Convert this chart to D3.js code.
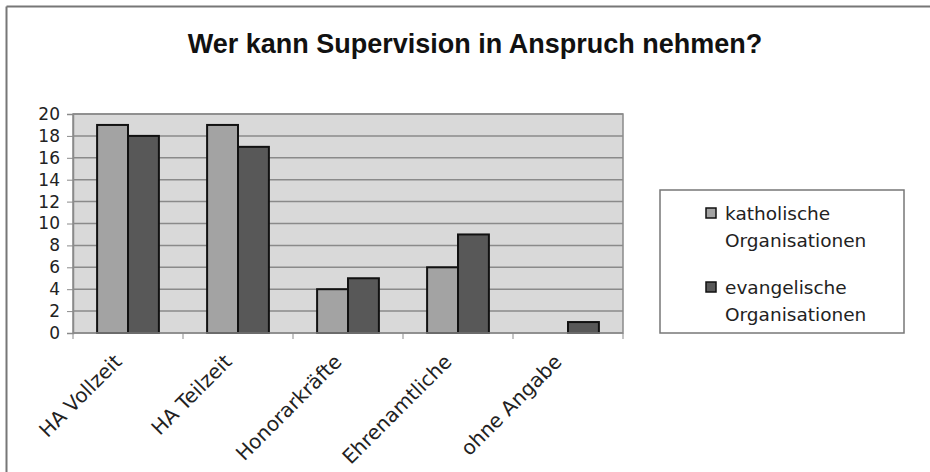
<!DOCTYPE html>
<html>
<head>
<meta charset="utf-8">
<script src="https://cdn.jsdelivr.net/npm/d3@7"></script>
<style>
  html, body { margin: 0; padding: 0; background: #fff; }
  svg { display: block; font-family: "DejaVu Sans", Verdana, sans-serif; }
</style>
</head>
<body>
<svg id="chart" width="930" height="472"></svg>
<script>
// Survey answers: who may use supervision, by organisation type
const categories = ["HA Vollzeit", "HA Teilzeit", "Honorarkräfte", "Ehrenamtliche", "ohne Angabe"];
const katholisch = [19, 19, 4, 6, 0];
const evangelisch = [18, 17, 5, 9, 1];
const seriesNames = ["katholische Organisationen", "evangelische Organisationen"];
const yTicks = [0, 2, 4, 6, 8, 10, 12, 14, 16, 18, 20];

const svg = d3.select("#chart");
const W = 930, H = 472;

// outer frame (top and left edges)
svg.append("line").attr("x1", 6.5).attr("x2", W).attr("y1", 6.5).attr("y2", 6.5)
  .attr("stroke", "#777").attr("stroke-width", 2);
svg.append("line").attr("x1", 6.5).attr("x2", 6.5).attr("y1", 6.5).attr("y2", H)
  .attr("stroke", "#777").attr("stroke-width", 2);

// title
svg.append("text").attr("x", 475).attr("y", 53).attr("text-anchor", "middle")
  .attr("font-family", "Arial, 'Liberation Sans', sans-serif")
  .attr("font-size", 27).attr("font-weight", "bold").attr("fill", "#111")
  .text("Wer kann Supervision in Anspruch nehmen?");

const plot = { left: 73, right: 623, top: 114, bottom: 333 };

const x = d3.scaleBand().domain(categories).range([plot.left, plot.right]);
const x1 = d3.scaleBand().domain([0, 1]).range([0, x.bandwidth()]).paddingOuter(0.78).paddingInner(0);
const y = d3.scaleLinear().domain([0, 20]).range([plot.bottom, plot.top]);

// plot background
svg.append("rect").attr("x", plot.left).attr("y", plot.top)
  .attr("width", plot.right - plot.left).attr("height", plot.bottom - plot.top)
  .attr("fill", "#d9d9d9").attr("stroke", "#8a8a8a").attr("stroke-width", 1.5);

// gridlines
svg.append("g").selectAll("line").data(yTicks.filter(t => t > 0)).join("line")
  .attr("x1", plot.left).attr("x2", plot.right)
  .attr("y1", d => y(d)).attr("y2", d => y(d))
  .attr("stroke", "#8a8a8a").attr("stroke-width", 1.5);

// bars
const colors = ["#a3a3a3", "#585858"];
const groups = svg.append("g").selectAll("g").data(categories).join("g")
  .attr("transform", d => `translate(${x(d)},0)`);
groups.selectAll("rect")
  .data((d, i) => [katholisch[i], evangelisch[i]].map((v, s) => ({ v, s })))
  .join("rect")
  .filter(d => d.v > 0)
  .attr("x", d => x1(d.s))
  .attr("y", d => y(d.v))
  .attr("width", x1.bandwidth())
  .attr("height", d => y(0) - y(d.v))
  .attr("fill", d => colors[d.s])
  .attr("stroke", "#111").attr("stroke-width", 2);

// y axis
const yAxis = svg.append("g").attr("transform", `translate(${plot.left},0)`)
  .call(d3.axisLeft(y).tickValues(yTicks).tickSize(6).tickPadding(7).tickFormat(d3.format("d")));
yAxis.select(".domain").attr("stroke", "#8a8a8a").attr("stroke-width", 1.5);
yAxis.selectAll(".tick line").attr("stroke", "#8a8a8a");
yAxis.selectAll(".tick text").attr("font-size", 17).attr("fill", "#222")
  .attr("font-family", "'DejaVu Sans', Verdana, sans-serif");

// x axis
const xAxis = svg.append("g").attr("transform", `translate(0,${plot.bottom})`);
xAxis.append("line").attr("x1", plot.left).attr("x2", plot.right)
  .attr("stroke", "#8a8a8a").attr("stroke-width", 1.5);
const edges = categories.map(c => x(c)).concat([plot.right]);
xAxis.selectAll("line.tk").data(edges).join("line").attr("class", "tk")
  .attr("x1", d => d).attr("x2", d => d).attr("y1", 0).attr("y2", 6)
  .attr("stroke", "#8a8a8a");
xAxis.selectAll("text").data(categories).join("text")
  .attr("transform", d => `translate(${x(d) + x.bandwidth() / 2 - 5},30) rotate(-45)`)
  .attr("text-anchor", "end")
  .attr("font-size", 20).attr("fill", "#222")
  .text(d => d);

// legend
const legend = svg.append("g");
legend.append("rect").attr("x", 660).attr("y", 190).attr("width", 244).attr("height", 143)
  .attr("fill", "#fff").attr("stroke", "#777").attr("stroke-width", 1.5);
const entries = legend.selectAll("g").data(seriesNames).join("g")
  .attr("transform", (d, i) => `translate(706,${208 + i * 74})`);
entries.append("rect").attr("width", 10).attr("height", 10)
  .attr("fill", (d, i) => colors[i]).attr("stroke", "#111").attr("stroke-width", 1.5);
entries.each(function (d) {
  const [a, b] = d.split(" ");
  const t = d3.select(this).append("text").attr("font-size", 18.5).attr("fill", "#222");
  t.append("tspan").attr("x", 19).attr("y", 12).text(a);
  t.append("tspan").attr("x", 19).attr("y", 39).text(b);
});
</script>
</body>
</html>
